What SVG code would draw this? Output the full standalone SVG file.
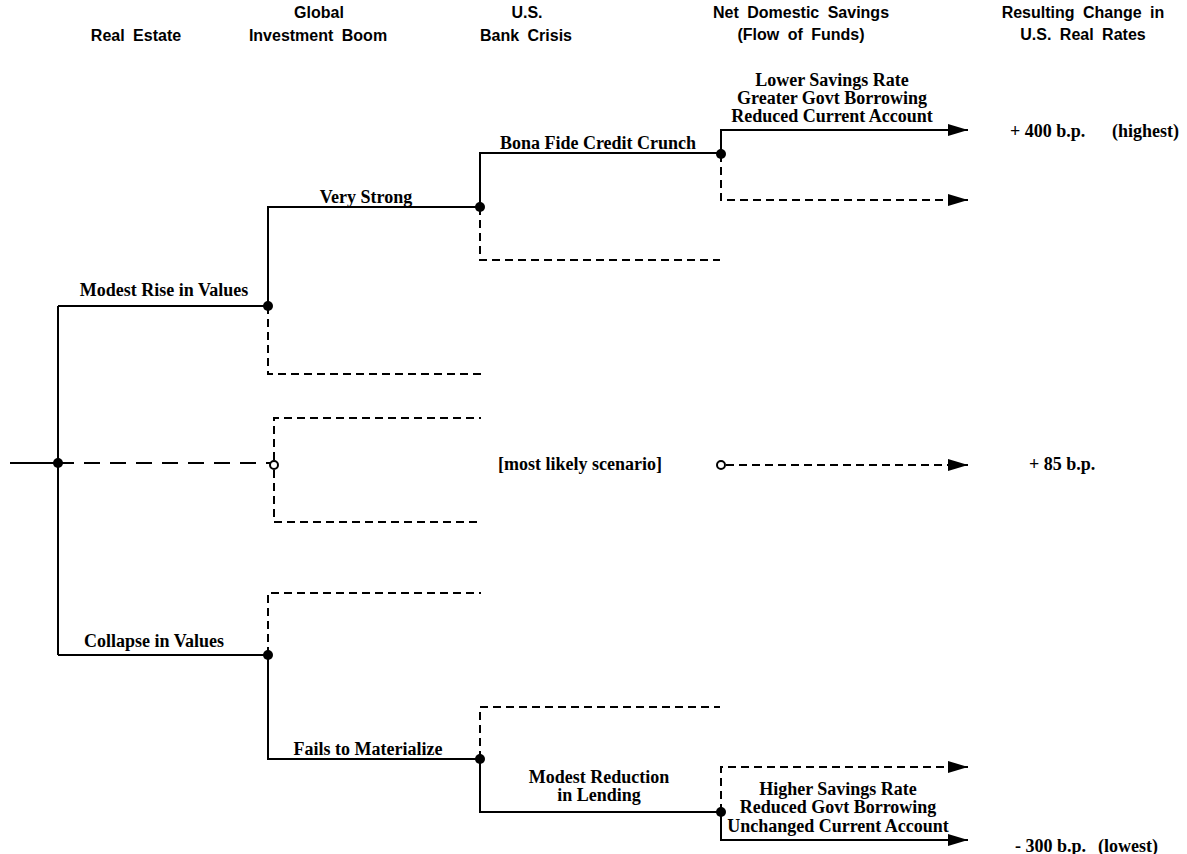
<svg xmlns="http://www.w3.org/2000/svg" width="1187" height="854" viewBox="0 0 1187 854">
<style>
.h{font-family:"Liberation Sans",Arial,sans-serif;font-weight:bold;font-size:16px;word-spacing:4px;fill:#000;text-anchor:middle}
.t{font-family:"Liberation Serif","Times New Roman",serif;font-weight:bold;font-size:18px;fill:#000}
.c{text-anchor:middle}
.s{stroke:#000;stroke-width:2;fill:none}
.d{stroke:#000;stroke-width:2;fill:none;stroke-dasharray:8 5}
.dl{stroke:#000;stroke-width:2;fill:none;stroke-dasharray:16 10}
.dot{fill:#000}
.open{fill:#fff;stroke:#000;stroke-width:2}
</style>
<defs>
<marker id="ah" viewBox="0 0 20 12" refX="20" refY="6" markerWidth="20" markerHeight="12" markerUnits="userSpaceOnUse" orient="auto">
<path d="M0,0 L20,6 L0,12 Z" fill="#000"/>
</marker>
</defs>
<rect width="1187" height="854" fill="#fff"/>

<g id="headers">
<text class="h" x="136" y="41">Real Estate</text>
<text class="h" x="319" y="18">Global</text>
<text class="h" x="318" y="41">Investment Boom</text>
<text class="h" x="527" y="18">U.S.</text>
<text class="h" x="526" y="41">Bank Crisis</text>
<text class="h" x="801" y="18">Net Domestic Savings</text>
<text class="h" x="801" y="40">(Flow of Funds)</text>
<text class="h" x="1083" y="18">Resulting Change in</text>
<text class="h" x="1083" y="40">U.S. Real Rates</text>
</g>

<g id="connectors">
<path class="s" d="M10,463 H58"/>
<path class="dl" d="M58,463 H270"/>
<path class="s" d="M58,306 V655"/>
<path class="s" d="M58,306 H268"/>
<path class="s" d="M268,306 V207 H480"/>
<path class="d" d="M268,306 V374 H481"/>
<path class="s" d="M480,207 V153 H721"/>
<path class="d" d="M480,207 V260 H720"/>
<path class="s" d="M721,154 V130 H968" marker-end="url(#ah)"/>
<path class="d" d="M721,154 V200 H968" marker-end="url(#ah)"/>
<path class="d" d="M274,460 V418 H481"/>
<path class="d" d="M274,470 V522 H481"/>
<path class="d" d="M726,465 H968" marker-end="url(#ah)"/>
<path class="s" d="M58,655 H268"/>
<path class="d" d="M268,655 V593 H481"/>
<path class="s" d="M268,655 V759 H480"/>
<path class="d" d="M480,759 V707 H720"/>
<path class="s" d="M480,759 V812 H721"/>
<path class="d" d="M721,812 V767 H968" marker-end="url(#ah)"/>
<path class="s" d="M721,812 V840 H968" marker-end="url(#ah)"/>
</g>

<g id="n-root"><circle class="dot" cx="58" cy="463" r="5"/></g>
<g id="n-modest-rise"><circle class="dot" cx="268" cy="306" r="5"/><text class="t c" x="164" y="296">Modest Rise in Values</text></g>
<g id="n-very-strong"><circle class="dot" cx="480" cy="207" r="5"/><text class="t c" x="366" y="203">Very Strong</text></g>
<g id="n-credit-crunch"><circle class="dot" cx="721" cy="154" r="5"/><text class="t c" x="598" y="149">Bona Fide Credit Crunch</text></g>
<g id="n-lower-savings">
<text class="t c" x="832" y="86">Lower Savings Rate</text>
<text class="t c" x="832" y="104">Greater Govt Borrowing</text>
<text class="t c" x="832" y="122">Reduced Current Account</text>
</g>
<g id="r-highest"><text class="t" x="1010" y="137">+ 400 b.p.<tspan x="1112">(highest)</tspan></text></g>
<g id="n-middle"><circle class="open" cx="274" cy="465" r="4"/></g>
<g id="n-most-likely"><text class="t c" x="580" y="470">[most likely scenario]</text><circle class="open" cx="721" cy="465" r="4"/></g>
<g id="r-likely"><text class="t" x="1029" y="470">+  85 b.p.</text></g>
<g id="n-collapse"><circle class="dot" cx="268" cy="655" r="5"/><text class="t c" x="154" y="647">Collapse in Values</text></g>
<g id="n-fails"><circle class="dot" cx="480" cy="759" r="5"/><text class="t c" x="368" y="755">Fails to Materialize</text></g>
<g id="n-modest-reduction"><circle class="dot" cx="721" cy="812" r="5"/>
<text class="t c" x="599" y="783">Modest Reduction</text>
<text class="t c" x="599" y="801">in Lending</text>
</g>
<g id="n-higher-savings">
<text class="t c" x="838" y="795">Higher Savings Rate</text>
<text class="t c" x="838" y="813">Reduced Govt Borrowing</text>
<text class="t c" x="838" y="832">Unchanged Current Account</text>
</g>
<g id="r-lowest"><text class="t" x="1015" y="852">- 300 b.p.<tspan x="1098">(lowest)</tspan></text></g>
</svg>
